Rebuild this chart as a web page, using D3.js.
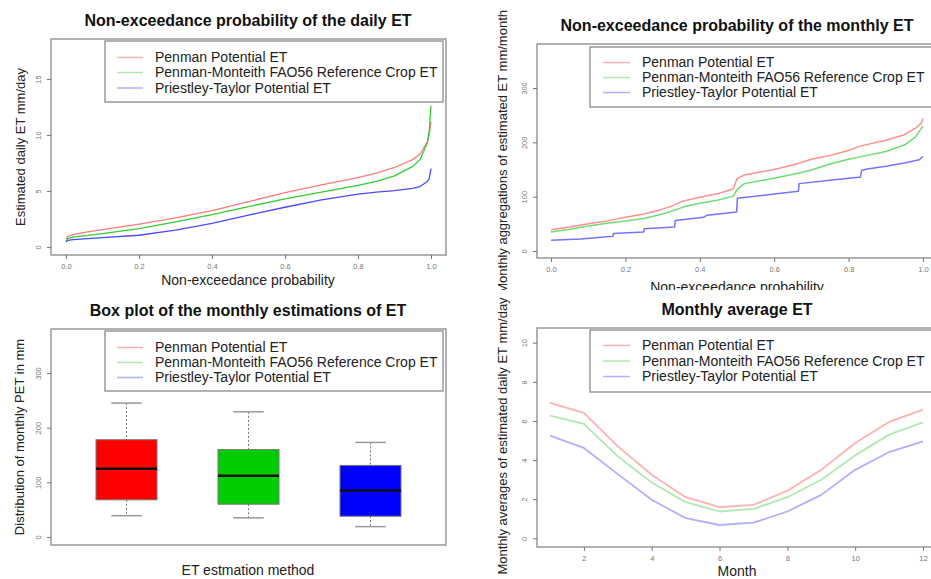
<!DOCTYPE html>
<html>
<head>
<meta charset="utf-8">
<script src="https://cdn.jsdelivr.net/npm/d3@7"></script>
<style>
  body { margin: 0; background: #fff; }
  text { font-family: 'Liberation Sans', Arial, sans-serif; }
</style>
</head>
<body>
<svg id="chart" width="931" height="579"></svg>
<script>

//---------------------
// DATA
//---------------------

const seriesNames = [
  'Penman Potential ET',
  'Penman-Monteith FAO56 Reference Crop ET',
  'Priestley-Taylor Potential ET'
];

// daily non-exceedance curve (probability -> mm/day)
const dailyProb      = [0, 0.005, 0.02, 0.05, 0.1, 0.2, 0.3, 0.4, 0.5, 0.6, 0.7, 0.8, 0.85, 0.9, 0.95, 0.97, 0.99, 0.995, 1.0];
const dailyPenman    = [0.7, 0.95, 1.1, 1.3, 1.56, 2.04, 2.6, 3.25, 4.05, 4.85, 5.55, 6.2, 6.6, 7.1, 7.8, 8.3, 9.4, 10.0, 11.2];
const dailyFao56     = [0.5, 0.75, 0.88, 1.0, 1.2, 1.65, 2.25, 2.9, 3.6, 4.3, 4.9, 5.5, 5.85, 6.35, 7.2, 7.8, 9.3, 10.3, 12.6];
const dailyPriestley = [0.45, 0.6, 0.65, 0.72, 0.84, 1.05, 1.5, 2.1, 2.85, 3.55, 4.2, 4.73, 4.9, 5.03, 5.24, 5.4, 5.85, 6.1, 7.0];

// monthly non-exceedance curve [probability, mm/month]
const monthlyPenman = [
  [0, 39], [0.05, 44], [0.1, 50], [0.15, 55], [0.2, 62], [0.25, 68], [0.3, 77], [0.33, 84],
  [0.35, 91], [0.4, 99], [0.45, 106], [0.49, 114], [0.5, 133], [0.52, 140], [0.6, 150],
  [0.66, 160], [0.7, 169], [0.75, 176], [0.8, 185], [0.83, 193], [0.9, 204], [0.95, 214],
  [0.98, 226], [0.995, 235], [1, 244]
];
const monthlyFao56 = [
  [0, 35], [0.05, 40], [0.1, 46], [0.15, 51], [0.2, 55], [0.25, 60], [0.3, 68], [0.34, 77],
  [0.36, 82], [0.4, 88], [0.45, 94], [0.49, 101], [0.5, 113], [0.52, 124], [0.6, 134],
  [0.67, 144], [0.7, 149], [0.75, 160], [0.8, 169], [0.85, 176], [0.9, 183], [0.95, 195],
  [0.98, 210], [1, 230]
];
const monthlyPriestley = [
  [0, 20], [0.08, 22], [0.166, 27], [0.168, 32], [0.249, 35], [0.251, 41], [0.332, 44],
  [0.334, 56], [0.41, 62], [0.42, 66], [0.499, 72], [0.501, 97], [0.6, 105], [0.665, 110],
  [0.667, 124], [0.75, 130], [0.832, 136], [0.835, 148], [0.85, 151], [0.9, 156],
  [0.95, 162], [0.99, 168], [1, 174]
];

// box plot statistics of monthly PET (mm)
const boxLow  = [39, 35, 19];
const boxQ1   = [68, 60, 38];
const boxMed  = [125, 112, 85];
const boxQ3   = [178, 160, 131];
const boxHigh = [245, 229, 173];

// monthly averages of daily ET (mm/day)
const months       = [1, 2, 3, 4, 5, 6, 7, 8, 9, 10, 11, 12];
const avgPenman    = [6.92, 6.41, 4.7, 3.25, 2.1, 1.59, 1.71, 2.43, 3.5, 4.87, 5.95, 6.58];
const avgFao56     = [6.27, 5.85, 4.19, 2.85, 1.85, 1.37, 1.5, 2.1, 2.99, 4.24, 5.3, 5.93];
const avgPriestley = [5.25, 4.62, 3.28, 1.97, 1.03, 0.68, 0.8, 1.37, 2.22, 3.5, 4.41, 4.96];

// tick values
const probTicks    = [0, 0.2, 0.4, 0.6, 0.8, 1.0];
const dailyTicks   = [0, 5, 10, 15];
const monthlyTicks = [0, 100, 200, 300];
const monthTicks   = [2, 4, 6, 8, 10, 12];
const avgTicks     = [0, 2, 4, 6, 8, 10];

//---------------------
// SETUP
//---------------------

const svg = d3.select('#chart');
const legendColors = ['#ffb0b0', '#b0e8b0', '#b0b0ff'];

function addPanel (id, x, y, w, h) {
  svg.append('defs')
     .append('clipPath')
     .attr('id', `clip_${id}`)
     .append('rect')
     .attr('x', x).attr('y', y)
     .attr('width', w).attr('height', h);
  return svg.append('g').attr('clip-path', `url(#clip_${id})`);
}

function addFrame (g, box) {
  g.append('rect')
   .attr('x', box.x0).attr('y', box.y0)
   .attr('width', box.x1 - box.x0).attr('height', box.y1 - box.y0)
   .attr('fill', 'none')
   .attr('stroke', '#999')
   .attr('stroke-width', 1.5);
}

function addTitle (g, text, x, y) {
  g.append('text')
   .attr('x', x).attr('y', y)
   .attr('text-anchor', 'middle')
   .attr('font-size', 16)
   .attr('font-weight', 'bold')
   .attr('fill', '#111')
   .text(text);
}

function addLabelX (g, text, x, y) {
  g.append('text')
   .attr('x', x).attr('y', y)
   .attr('text-anchor', 'middle')
   .attr('font-size', 14)
   .attr('fill', '#222')
   .text(text);
}

function addLabelY (g, text, x, y, anchor) {
  g.append('text')
   .attr('transform', `translate(${x}, ${y}) rotate(-90)`)
   .attr('text-anchor', anchor)
   .attr('font-size', 13)
   .attr('fill', '#222')
   .text(text);
}

function styleAxis (sel) {
  sel.select('.domain').remove();
  sel.selectAll('.tick line').attr('stroke', '#777');
  sel.selectAll('.tick text')
     .attr('fill', '#777')
     .attr('font-size', 7.5)
     .attr('font-family', "'Liberation Sans', Arial, sans-serif");
}

function addAxisX (g, scale, ticks, y, fmt) {
  const axis = d3.axisBottom(scale)
                 .tickValues(ticks)
                 .tickSize(4)
                 .tickPadding(4.5)
                 .tickFormat(fmt);
  const sel = g.append('g')
               .attr('transform', `translate(0, ${y})`)
               .call(axis);
  styleAxis(sel);
}

function addAxisY (g, scale, ticks, x) {
  const axis = d3.axisLeft(scale)
                 .tickValues(ticks)
                 .tickSize(4)
                 .tickFormat(d3.format('d'));
  const sel = g.append('g')
               .attr('transform', `translate(${x}, 0)`)
               .call(axis);
  styleAxis(sel);
  // R style: y labels parallel to the axis
  sel.selectAll('.tick text')
     .attr('transform', 'rotate(-90)')
     .attr('x', 0)
     .attr('y', -10)
     .attr('dy', 0)
     .attr('text-anchor', 'middle');
}

function addLegend (g, box, rows, lineX, textX) {
  g.append('rect')
   .attr('x', box.x0).attr('y', box.y0)
   .attr('width', box.x1 - box.x0).attr('height', box.y1 - box.y0)
   .attr('fill', '#fff')
   .attr('stroke', '#999')
   .attr('stroke-width', 1.5);

  const items = g.append('g')
                 .selectAll('g')
                 .data(seriesNames)
                 .enter()
                 .append('g');

  items.append('line')
       .attr('x1', lineX[0]).attr('x2', lineX[1])
       .attr('y1', (d, i) => rows[i] - 4.5)
       .attr('y2', (d, i) => rows[i] - 4.5)
       .attr('stroke', (d, i) => legendColors[i])
       .attr('stroke-width', 1.5);

  items.append('text')
       .attr('x', textX)
       .attr('y', (d, i) => rows[i])
       .attr('font-size', 14)
       .attr('fill', '#222')
       .text(d => d);
}

function addLine (g, data, xs, ys, color, width) {
  const line = d3.line()
                 .x(d => xs(d[0]))
                 .y(d => ys(d[1]));
  g.append('path')
   .datum(data)
   .attr('d', line)
   .attr('fill', 'none')
   .attr('stroke', color)
   .attr('stroke-width', width)
   .attr('stroke-linejoin', 'round');
}

//---------------------
// PANEL 1: DAILY NON-EXCEEDANCE
//---------------------

(function () {
  const g = addPanel('p1', 0, 0, 460, 290);
  const box = { x0: 51, x1: 446, y0: 39, y1: 255 };
  const xs = d3.scaleLinear().domain([0, 1]).range([66, 431]);
  const ys = d3.scaleLinear().domain([0, 15]).range([247, 79]);

  addTitle(g, 'Non-exceedance probability of the daily ET', 248, 26);
  addFrame(g, box);
  addAxisX(g, xs, probTicks, box.y1, d3.format('.1f'));
  addAxisY(g, ys, dailyTicks, box.x0);
  addLabelX(g, 'Non-exceedance probability', 248, 285);
  addLabelY(g, 'Estimated daily ET mm/day', 25, 147, 'middle');

  const colors = ['#ff7a7a', '#33cc33', '#4a4aff'];
  [dailyPenman, dailyFao56, dailyPriestley].forEach((vals, i) => {
    addLine(g, dailyProb.map((p, j) => [p, vals[j]]), xs, ys, colors[i], 1.3);
  });

  addLegend(g, { x0: 105, x1: 443, y0: 41, y1: 102 }, [62, 77, 92.5], [117, 143], 155);
})();

//---------------------
// PANEL 2: MONTHLY NON-EXCEEDANCE
//---------------------

(function () {
  const g = addPanel('p2', 460, 0, 471, 290);
  const box = { x0: 537, x1: 945, y0: 44, y1: 258 };
  const xs = d3.scaleLinear().domain([0, 1]).range([551, 923]);
  const ys = d3.scaleLinear().domain([0, 300]).range([251, 88]);

  addTitle(g, 'Non-exceedance probability of the monthly ET', 737, 31);
  addFrame(g, box);
  addAxisX(g, xs, probTicks, box.y1, d3.format('.1f'));
  addAxisY(g, ys, monthlyTicks, box.x0);
  addLabelX(g, 'Non-exceedance probability', 737, 292);
  addLabelY(g, 'Monthly aggregations of estimated ET mm/month', 507, 10, 'end');

  const colors = ['#ff9090', '#70dd70', '#7373ff'];
  [monthlyPenman, monthlyFao56, monthlyPriestley].forEach((vals, i) => {
    addLine(g, vals, xs, ys, colors[i], 1.5);
  });

  addLegend(g, { x0: 590, x1: 945, y0: 47, y1: 107 }, [67, 82, 97], [603, 630], 642);
})();

//---------------------
// PANEL 3: BOX PLOT
//---------------------

(function () {
  const g = addPanel('p3', 0, 290, 460, 289);
  const box = { x0: 51, x1: 446, y0: 329, y1: 545 };
  const xs = d3.scaleLinear().domain([1, 3]).range([126.5, 370.5]);
  const ys = d3.scaleLinear().domain([0, 300]).range([537, 373]);
  const fills = ['#ff0000', '#00cd00', '#0000ff'];
  const half = (xs(1.25) - xs(1));   // box half width (boxwex 0.5)

  addTitle(g, 'Box plot of the monthly estimations of ET', 248, 316);
  addFrame(g, box);
  addAxisY(g, ys, monthlyTicks, box.x0);
  addLabelX(g, 'ET estmation method', 248, 575);
  addLabelY(g, 'Distribution of monthly PET in mm', 24, 437, 'middle');

  const stats = boxMed.map((m, i) => ({
    x: i + 1, low: boxLow[i], q1: boxQ1[i], med: m, q3: boxQ3[i], high: boxHigh[i]
  }));

  const b = g.append('g')
             .selectAll('g')
             .data(stats)
             .enter()
             .append('g');

  // whiskers
  b.append('line')
   .attr('x1', d => xs(d.x)).attr('x2', d => xs(d.x))
   .attr('y1', d => ys(d.high)).attr('y2', d => ys(d.q3))
   .attr('stroke', '#777').attr('stroke-dasharray', '2,2');
  b.append('line')
   .attr('x1', d => xs(d.x)).attr('x2', d => xs(d.x))
   .attr('y1', d => ys(d.q1)).attr('y2', d => ys(d.low))
   .attr('stroke', '#777').attr('stroke-dasharray', '2,2');

  // staples
  ['high', 'low'].forEach(k => {
    b.append('line')
     .attr('x1', d => xs(d.x) - half / 2).attr('x2', d => xs(d.x) + half / 2)
     .attr('y1', d => ys(d[k])).attr('y2', d => ys(d[k]))
     .attr('stroke', '#999').attr('stroke-width', 1.5);
  });

  b.append('rect')
   .attr('x', d => xs(d.x) - half)
   .attr('width', half * 2)
   .attr('y', d => ys(d.q3))
   .attr('height', d => ys(d.q1) - ys(d.q3))
   .attr('fill', (d, i) => fills[i])
   .attr('stroke', '#777')
   .attr('stroke-width', 1);

  b.append('line')
   .attr('x1', d => xs(d.x) - half).attr('x2', d => xs(d.x) + half)
   .attr('y1', d => ys(d.med)).attr('y2', d => ys(d.med))
   .attr('stroke', '#111').attr('stroke-width', 2.5);

  addLegend(g, { x0: 105, x1: 443, y0: 331, y1: 391 }, [352, 367, 382], [117, 143], 155);
})();

//---------------------
// PANEL 4: MONTHLY AVERAGES
//---------------------

(function () {
  const g = addPanel('p4', 460, 292, 471, 287);
  const box = { x0: 537, x1: 945, y0: 328, y1: 547 };
  const xs = d3.scaleLinear().domain([1, 12]).range([550, 923]);
  const ys = d3.scaleLinear().domain([0, 10]).range([538.3, 342.7]);

  addTitle(g, 'Monthly average ET', 737, 315);
  addFrame(g, box);
  addAxisX(g, xs, monthTicks, box.y1, d3.format('d'));
  addAxisY(g, ys, avgTicks, box.x0);
  addLabelX(g, 'Month', 737, 576);
  addLabelY(g, 'Monthly averages of estimated daily ET mm/day', 507, 436, 'middle');

  [avgPenman, avgFao56, avgPriestley].forEach((vals, i) => {
    addLine(g, months.map((m, j) => [m, vals[j]]), xs, ys, legendColors[i], 1.8);
  });

  addLegend(g, { x0: 590, x1: 945, y0: 330, y1: 392 }, [350, 365.5, 381], [603, 630], 642);
})();

</script>
</body>
</html>
